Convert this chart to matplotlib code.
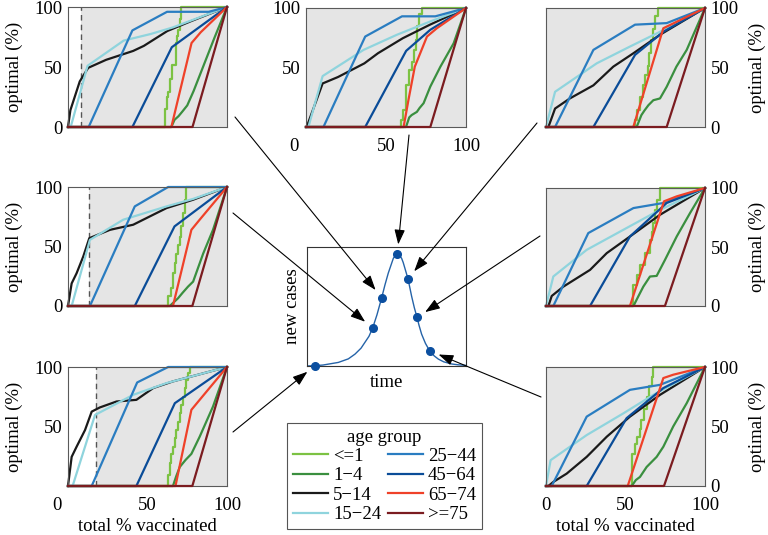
import matplotlib
matplotlib.use('Agg')
import matplotlib.pyplot as plt
from matplotlib.lines import Line2D
from matplotlib.transforms import ScaledTranslation

plt.rcParams['font.family'] = ['Liberation Serif', 'DejaVu Serif']
FS = 13.5

# ---------------- data ----------------
GROUPS = ['<=1', '1\u22124', '5\u221214', '15\u221224', '25\u221244', '45\u221264', '65\u221274', '>=75']
COLORS = ['#7cc243', '#3a8f3f', '#1a1a1a', '#8fd4dd', '#2a7dc1', '#0a4c98', '#ef4129', '#7b1c20']

# top-left panel (vaccination started at ~8%)
tl_le1 = [(0, 0), (61.3, 15), (62, 25), (63, 29), (64, 40), (65.7, 52), (67.8, 70), (68.5, 76), (69.2, 81), (70.2, 90), (71.3, 100), (100, 100)]
tl_1_4 = [(0, 0), (65, 0), (67, 6), (69.5, 9), (72, 13), (75, 18), (79, 30), (85.5, 52), (92, 74), (100, 100)]
tl_5_14 = [(0, 0), (1.5, 14), (7.4, 38), (12.7, 49.3), (24, 56), (41, 63.4), (47.7, 67.6), (62.5, 80), (77, 88), (100, 100)]
tl_15_24 = [(0, 0), (1.7, 0), (12.3, 51), (35, 72), (52, 77.5), (66, 83), (100, 100)]
tl_25_44 = [(0, 0), (13, 0), (40.5, 80.5), (62.3, 96), (88.5, 96), (100, 100)]
tl_45_64 = [(0, 0), (40.5, 0), (65.3, 66.5), (100, 100)]
tl_65_74 = [(0, 0), (65, 0), (77.7, 70), (83.5, 79), (100, 100)]
tl_75 = [(0, 0), (78.3, 0), (100, 100)]
TL_VAC = 8

# top-centre panel
tc_le1 = [(0, 0), (59.5, 6), (60.5, 14), (62.5, 35), (64.5, 48), (66, 55), (67.5, 65), (68.5, 73), (69.5, 85), (70.5, 95), (72.4, 100), (100, 100)]
tc_1_4 = [(0, 0), (62.5, 0), (64.5, 8), (66, 10), (69.3, 12.7), (71, 16), (73.5, 20), (77.7, 34), (84, 50.7), (92.3, 70.4), (100, 100)]
tc_5_14 = [(0, 0), (0.4, 0), (10.4, 36.6), (20, 42), (36.5, 53.5), (45, 62), (60.5, 74.6), (77.5, 86), (100, 100)]
tc_15_24 = [(0, 0), (1.5, 0), (10.4, 42.8), (36, 64.8), (56.8, 77.5), (77.7, 88.7), (100, 100)]
tc_25_44 = [(0, 0), (10.9, 0), (37, 76), (60, 93), (80.8, 93), (100, 100)]
tc_45_64 = [(0, 0), (37, 0), (62.6, 64), (77.7, 81.7), (100, 100)]
tc_65_74 = [(0, 0), (61, 0), (64, 22.5), (68, 50.7), (75.6, 76), (81.8, 83), (100, 100)]
tc_75 = [(0, 0), (77.7, 0), (100, 100)]

# top-right panel
tr_le1 = [(0, 0), (56, 6), (57.5, 14), (59, 25), (61, 35), (62.5, 44), (64, 51), (65, 62), (66, 73), (67.3, 82), (68.5, 93), (70.6, 100), (100, 100)]
tr_1_4 = [(0, 0), (57, 0), (60, 10), (62, 14), (64.4, 18.3), (67.5, 22.5), (71.7, 24), (75.9, 33.8), (82, 50.7), (88.5, 64.8), (100, 100)]
tr_5_14 = [(0, 0), (1.5, 0), (5.7, 15.5), (15, 24), (29.8, 35), (42.3, 50.7), (55, 62), (71.7, 77.5), (100, 100)]
tr_15_24 = [(0, 0), (5.7, 29.6), (31.9, 53.5), (52.8, 67.6), (71.7, 80), (100, 100)]
tr_25_44 = [(0, 0), (5.7, 0), (29.8, 64.8), (56, 86), (75.9, 87.3), (100, 100)]
tr_45_64 = [(0, 0), (29.8, 0), (56, 60.6), (73.8, 80), (100, 100)]
tr_65_74 = [(0, 0), (54.9, 0), (73.8, 83), (100, 100)]
tr_75 = [(0, 0), (75.9, 0), (100, 100)]

# middle-left panel (vaccination started at ~13%)
ml_le1 = [(0, 0), (63.2, 8), (65, 15), (66, 27.5), (67, 36), (68, 44), (69, 51), (70.3, 58.4), (71.3, 67), (72.4, 78), (73.4, 89.3), (74.5, 100), (100, 100)]
ml_1_4 = [(0, 0), (64, 0), (69.2, 6.5), (72, 11), (75.5, 16.3), (78.7, 20.5), (85, 44), (91.2, 64), (100, 100)]
ml_5_14 = [(0, 0), (2.3, 19), (5.4, 27.5), (9.6, 41.6), (13.4, 57), (26.4, 64), (41, 68.3), (47.3, 72.5), (62, 82.3), (78.7, 89.3), (100, 100)]
ml_15_24 = [(0, 0), (2.3, 0), (13.8, 55.6), (34.7, 72.5), (62, 83.7), (78.7, 90), (100, 100)]
ml_25_44 = [(0, 0), (13.8, 0), (42, 83.7), (63, 100), (100, 100)]
ml_45_64 = [(0, 0), (42, 0), (67, 66.9), (100, 100)]
ml_65_74 = [(0, 0), (66, 0), (77.6, 64), (82.8, 72.5), (100, 100)]
ml_75 = [(0, 0), (78.2, 0), (100, 100)]
ML_VAC = 13.4

# middle-right panel
mr_le1 = [(0, 0), (55, 17.8), (57, 26), (59.1, 34.8), (62.3, 44.8), (65.4, 56), (66.5, 63), (67.5, 70), (68.6, 81.6), (69.6, 90), (71.7, 100), (100, 100)]
mr_1_4 = [(0, 0), (55, 0), (58, 8), (61.2, 16.4), (65.4, 25), (69.6, 25.5), (74.8, 39), (82.2, 58.9), (90.6, 78.8), (100, 100)]
mr_5_14 = [(0, 0), (1.5, 0), (3.6, 8.5), (10.9, 16.4), (27.7, 30.6), (38.2, 44.8), (52.8, 58.9), (71.7, 77.3), (100, 100)]
mr_15_24 = [(0, 0), (4.6, 25), (25.6, 47.6), (46.5, 63), (69.6, 80), (100, 100)]
mr_25_44 = [(0, 0), (4.6, 0), (26.6, 61.8), (55, 83), (73.8, 87.3), (100, 100)]
mr_45_64 = [(0, 0), (27.7, 0), (52.8, 58.9), (75.9, 87.3), (100, 100)]
mr_65_74 = [(0, 0), (52.8, 0), (74.2, 88.7), (82.2, 92.9), (100, 100)]
mr_75 = [(0, 0), (74.8, 0), (100, 100)]

# bottom-left panel (vaccination started at ~17%)
bl_le1 = [(0, 0), (63, 9), (64, 19), (65, 27), (66.1, 33), (67.2, 40), (68.2, 47), (69.2, 54), (70.3, 61), (71.3, 68), (72.4, 75), (73.4, 82), (74.5, 89), (75.5, 95), (77, 100), (100, 100)]
bl_1_4 = [(0, 0), (66, 0), (68, 8), (70.3, 16), (74, 22), (77.6, 27), (82.8, 41.4), (91.2, 66.8), (100, 100)]
bl_5_14 = [(0, 0), (2.3, 24.5), (5.4, 33), (10.7, 47), (14.9, 62.5), (20, 66), (30.5, 71), (43, 72.4), (53.6, 82.3), (66, 87.9), (100, 100)]
bl_15_24 = [(0, 0), (2.9, 0), (17, 59.7), (41, 76.6), (62, 86.5), (100, 100)]
bl_25_44 = [(0, 0), (14.9, 0), (43.5, 87), (63, 100), (100, 100)]
bl_45_64 = [(0, 0), (43, 0), (67.2, 69.6), (100, 100)]
bl_65_74 = [(0, 0), (67.6, 0), (77.6, 64), (82.8, 72.4), (100, 100)]
bl_75 = [(0, 0), (78.2, 0), (100, 100)]
BL_VAC = 17.4

# bottom-right panel
br_le1 = [(0, 0), (53.9, 27.3), (56, 35), (57, 41.4), (59, 48), (60, 55.5), (61.5, 65), (63.3, 75.2), (65, 84), (66.5, 92), (67.5, 100), (100, 100)]
br_1_4 = [(0, 0), (53.9, 0), (56.5, 5), (59.1, 7.6), (63.3, 16), (69.6, 24.5), (73.8, 33), (80, 50), (88.5, 69.6), (100, 100)]
br_5_14 = [(0, 0), (1.5, 0), (4.6, 3.4), (13, 10.4), (25.6, 24.5), (38.2, 41.4), (52.8, 58.3), (71.7, 76.6), (100, 100)]
br_15_24 = [(0, 0), (2.9, 21.7), (25.6, 42.8), (48.6, 61), (67.5, 76.6), (100, 100)]
br_25_44 = [(0, 0), (3.6, 0), (25.6, 58.3), (52.8, 80.8), (71.7, 85), (100, 100)]
br_45_64 = [(0, 0), (25.6, 0), (50.7, 57), (73.8, 82.3), (100, 100)]
br_65_74 = [(0, 0), (51.4, 0), (73.8, 90.7), (80, 93.5), (88.5, 96.3), (100, 100)]
br_75 = [(0, 0), (74.2, 0), (100, 100)]

# epidemic curve (time and new cases, normalised)
t_read = [0, 0.05, 0.1, 0.197, 0.26, 0.302, 0.34, 0.365, 0.39, 0.413, 0.44, 0.47, 0.49, 0.511, 0.543, 0.555,
          0.568, 0.582, 0.595, 0.605, 0.616, 0.635, 0.645, 0.658, 0.675, 0.692, 0.705, 0.721, 0.745, 0.771,
          0.80, 0.826, 0.86, 0.91, 0.95, 1.0]
c_read = [0.0, 0.003, 0.008, 0.03, 0.06, 0.10, 0.15, 0.20, 0.25, 0.32, 0.43, 0.575, 0.68, 0.78, 0.905, 0.928,
          0.94, 0.93, 0.905, 0.87, 0.82, 0.733, 0.67, 0.586, 0.49, 0.408, 0.34, 0.267, 0.19, 0.128,
          0.085, 0.058, 0.035, 0.017, 0.01, 0.005]
t_mark = [0.05, 0.413, 0.47, 0.568, 0.635, 0.692, 0.771]
c_mark = [0.003, 0.32, 0.575, 0.94, 0.733, 0.408, 0.128]

# ---------------- figure ----------------
W, H = 768, 535
fig = plt.figure(figsize=(W / 100, H / 100), dpi=100)


def add_ax(l, t, r, b):
    return fig.add_axes([l / W, 1 - b / H, (r - l) / W, (b - t) / H])


GRAY = '#e5e5e5'
SPINE = '#5a5a5a'


def draw_panel(ax, series, side, yticks, xticks, zero_shift_px, vac, ylab_x, xlabel=False):
    ax.set_xlim(0, 100)
    ax.set_ylim(0, 100)
    if vac is None:
        ax.set_facecolor(GRAY)
    else:
        ax.set_facecolor('white')
        ax.axvspan(vac, 100, color=GRAY, lw=0, zorder=0)
        ax.axvline(vac, color='#555555', lw=1.0, ls=(0, (4, 3)), zorder=1)
    for i, (pts, c) in enumerate(zip(series, COLORS)):
        xs = [p[0] for p in pts]
        ys = [p[1] for p in pts]
        ax.plot(xs, ys, color=c, lw=1.6, drawstyle='steps-post' if i == 0 else 'default',
                clip_on=False, zorder=2 + i * 0.1)
    for s in ax.spines.values():
        s.set_color(SPINE)
        s.set_linewidth(0.8)
    ax.tick_params(length=0, labelsize=FS, pad=4)
    if side == 'right':
        ax.yaxis.tick_right()
        ax.yaxis.set_label_position('right')
    ax.set_yticks(yticks)
    if xticks:
        ax.set_xticks(xticks)
        ax.tick_params(axis='x', pad=8)
        if zero_shift_px:
            ticks = ax.xaxis.get_major_ticks()
            lab = ticks[0].label1
            lab.set_transform(lab.get_transform() +
                              ScaledTranslation(-zero_shift_px / 100, 0, fig.dpi_scale_trans))
    else:
        ax.set_xticks([])
    ax.set_ylabel('optimal (%)', fontsize=FS)
    ax.yaxis.set_label_coords(ylab_x, 0.5)
    if xlabel:
        ax.set_xlabel('total % vaccinated', fontsize=FS, labelpad=3)


ax_tl = add_ax(68, 7, 227, 127)
draw_panel(ax_tl, [tl_le1, tl_1_4, tl_5_14, tl_15_24, tl_25_44, tl_45_64, tl_65_74, tl_75],
           'left', [0, 50, 100], None, 0, TL_VAC, -0.28)
ax_tc = add_ax(306, 8, 466, 127)
draw_panel(ax_tc, [tc_le1, tc_1_4, tc_5_14, tc_15_24, tc_25_44, tc_45_64, tc_65_74, tc_75],
           'left', [50, 100], [0, 50, 100], 12, None, -0.28)
ax_tc.set_ylabel('')
ax_tr = add_ax(546, 8, 705, 127)
draw_panel(ax_tr, [tr_le1, tr_1_4, tr_5_14, tr_15_24, tr_25_44, tr_45_64, tr_65_74, tr_75],
           'right', [0, 50, 100], None, 0, None, 1.275)
ax_ml = add_ax(68, 187, 227, 306)
draw_panel(ax_ml, [ml_le1, ml_1_4, ml_5_14, ml_15_24, ml_25_44, ml_45_64, ml_65_74, ml_75],
           'left', [0, 50, 100], None, 0, ML_VAC, -0.28)
ax_mr = add_ax(546, 188, 705, 306)
draw_panel(ax_mr, [mr_le1, mr_1_4, mr_5_14, mr_15_24, mr_25_44, mr_45_64, mr_65_74, mr_75],
           'right', [0, 50, 100], None, 0, None, 1.275)
ax_bl = add_ax(68, 367, 227, 486)
draw_panel(ax_bl, [bl_le1, bl_1_4, bl_5_14, bl_15_24, bl_25_44, bl_45_64, bl_65_74, bl_75],
           'left', [50, 100], [0, 50, 100], 11, BL_VAC, -0.28, xlabel=True)
ax_br = add_ax(546, 367, 705, 486)
draw_panel(ax_br, [br_le1, br_1_4, br_5_14, br_15_24, br_25_44, br_45_64, br_65_74, br_75],
           'right', [0, 50, 100], [0, 50, 100], 0, None, 1.275, xlabel=True)

# epidemic curve
ep = add_ax(307, 247, 466, 366)
ep.plot(t_read, c_read, color='#2563a8', lw=1.0)
ep.plot(t_mark, c_mark, 'o', color='#0b4fa0', ms=5.5, clip_on=False, zorder=5)
ep.set_xlim(0, 1)
ep.set_ylim(0, 1)
ep.set_xticks([])
ep.set_yticks([])
for s in ep.spines.values():
    s.set_color('#333333')
    s.set_linewidth(0.8)
ep.set_xlabel('time', fontsize=FS, labelpad=6)
ep.set_ylabel('new cases', fontsize=FS, labelpad=4)

# arrows from each panel to its time point
ARROW_TAILS = [((233, 432), 0), ((233, 213), 1), ((235, 117), 2), ((409, 135), 3),
               ((537, 123), 4), ((540, 236), 5), ((541, 397), 6)]
for (tx, ty), k in ARROW_TAILS:
    ep.annotate('', xy=(t_mark[k], c_mark[k]), xycoords='data',
                xytext=(tx / W, 1 - ty / H), textcoords='figure fraction',
                arrowprops=dict(arrowstyle='-|>,head_length=9,head_width=3.2', mutation_scale=1,
                                color='black', lw=0.8, shrinkA=0, shrinkB=7),
                annotation_clip=False)

# legend
handles = [Line2D([], [], color=c, lw=1.6) for c in COLORS]
leg = fig.legend(handles, GROUPS, ncol=2, title='age group', loc='upper left',
                 bbox_to_anchor=(287 / W, 1 - 423 / H), fontsize=FS, title_fontsize=FS,
                 frameon=True, fancybox=False, edgecolor='#555555', framealpha=1,
                 borderpad=0.3, labelspacing=0.12, handlelength=1.9, handletextpad=0.25,
                 columnspacing=0.35, borderaxespad=0)
leg.get_frame().set_linewidth(0.8)

fig.savefig('out.png', dpi=100)
